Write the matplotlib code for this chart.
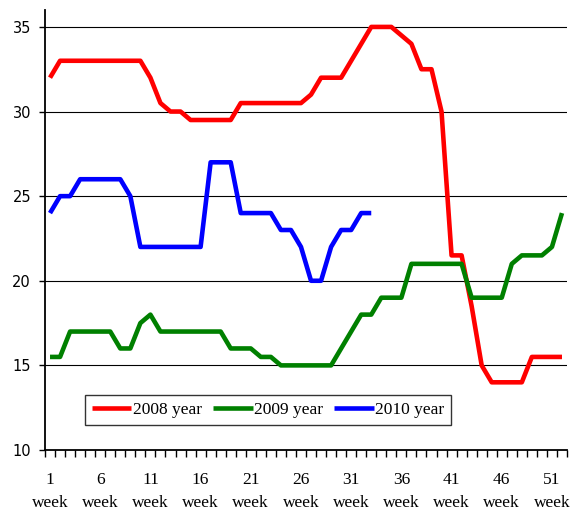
import numpy as np
import matplotlib
matplotlib.use("Agg")
import matplotlib.pyplot as plt

weeks = np.arange(1, 53)

price_2008 = [32, 33, 33, 33, 33, 33, 33, 33, 33, 33,
              32, 30.5, 30, 30, 29.5, 29.5, 29.5, 29.5, 29.5, 30.5,
              30.5, 30.5, 30.5, 30.5, 30.5, 30.5, 31, 32, 32, 32,
              33, 34, 35, 35, 35, 34.5, 34, 32.5, 32.5, 30,
              21.5, 21.5, 18.5, 15, 14, 14, 14, 14, 15.5, 15.5,
              15.5, 15.5]

price_2009 = [15.5, 15.5, 17, 17, 17, 17, 17, 16, 16, 17.5,
              18, 17, 17, 17, 17, 17, 17, 17, 16, 16,
              16, 15.5, 15.5, 15, 15, 15, 15, 15, 15, 16,
              17, 18, 18, 19, 19, 19, 21, 21, 21, 21,
              21, 21, 19, 19, 19, 19, 21, 21.5, 21.5, 21.5,
              22, 24]

price_2010 = [24, 25, 25, 26, 26, 26, 26, 26, 25, 22,
              22, 22, 22, 22, 22, 22, 27, 27, 27, 24,
              24, 24, 24, 23, 23, 22, 20, 20, 22, 23,
              23, 24, 24]

series_names = ["2008 year", "2009 year", "2010 year"]
series_colors = ["#FF0000", "#008000", "#0000FF"]

label_weeks = [1, 6, 11, 16, 21, 26, 31, 36, 41, 46, 51]
y_ticks = [10, 15, 20, 25, 30, 35]

serif = "Liberation Serif"

fig = plt.figure(figsize=(5.73, 5.13), dpi=100)
ax = fig.add_axes([45 / 573, 63 / 513, 522 / 573, 440 / 513])

all_series = [price_2008, price_2009, price_2010]
for vals, name, col in zip(all_series, series_names, series_colors):
    ax.plot(weeks[:len(vals)], vals, color=col, lw=3.3, label=name,
            solid_joinstyle="round", solid_capstyle="butt", zorder=3)

ax.set_xlim(0.5, 52.5)
ax.set_ylim(10, 36)

# horizontal grid
for yv in y_ticks[1:]:
    ax.axhline(yv, color="#000000", lw=0.8, zorder=1)

for s in ["top", "right"]:
    ax.spines[s].set_visible(False)
for s in ["left", "bottom"]:
    ax.spines[s].set_color("#000000")
    ax.spines[s].set_linewidth(1.3)

ax.set_yticks(y_ticks)
ax.set_yticklabels([str(v) for v in y_ticks], fontfamily="DejaVu Sans",
                   fontsize=10.5)
ax.tick_params(axis="y", direction="out", length=4, width=1.0, pad=6,
               colors="#000000")

# category boundaries carry the tick marks, labels sit on the categories
ax.set_xticks(np.arange(0.5, 53, 1.0))
ax.set_xticklabels([])
ax.tick_params(axis="x", which="major", direction="out", length=5,
               width=1.0, colors="#000000")
ax.set_xticks(label_weeks, minor=True)
ax.set_xticklabels([f"{w}\nweek" for w in label_weeks], minor=True,
                   fontfamily=serif, fontsize=12.5, linespacing=1.55)
ax.tick_params(axis="x", which="minor", length=0, pad=16,
               labelcolor="#000000")

leg = fig.legend(loc="center", bbox_to_anchor=(268 / 573, 103 / 513),
                 ncol=3, frameon=True, fancybox=False, shadow=False,
                 prop={"family": serif, "size": 12.5},
                 handlelength=2.3, handletextpad=0.1, columnspacing=0.6,
                 borderpad=0.4, borderaxespad=0)
leg.get_frame().set_edgecolor("#000000")
leg.get_frame().set_linewidth(1.0)

fig.savefig("out.png", dpi=100, facecolor="white")
